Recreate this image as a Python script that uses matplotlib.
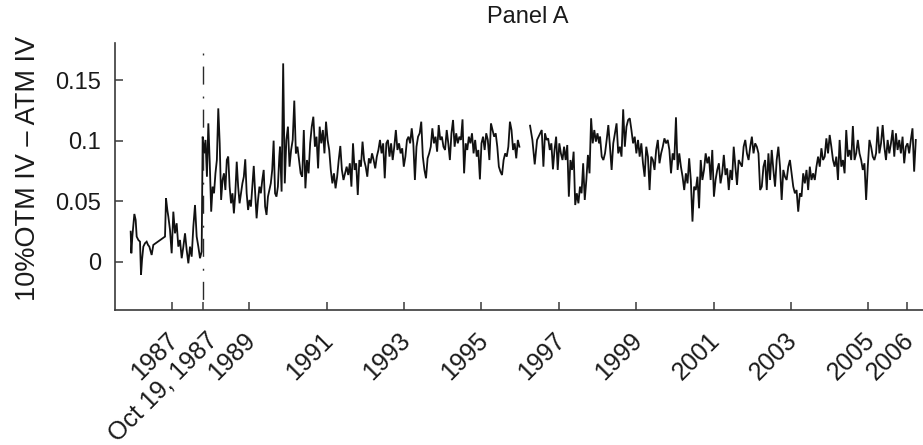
import numpy as np
import matplotlib
matplotlib.use("Agg")
import matplotlib.pyplot as plt
from matplotlib import transforms

plt.rcParams['font.family'] = ['Liberation Sans', 'DejaVu Sans']

# ---- skew series: 10% OTM implied vol minus ATM implied vol ----
# Before the 1987 crash observations are sparse, so dates are listed explicitly.
pre_crash_years = [
    1985.940, 1985.957, 1985.983, 1986.035, 1986.069, 1986.095, 1986.138, 1986.181,
    1986.207, 1986.233, 1986.267, 1986.310, 1986.353, 1986.388, 1986.422, 1986.457,
    1986.482, 1986.525, 1986.827, 1986.853, 1986.887, 1986.913, 1986.956, 1986.999,
    1987.042, 1987.085, 1987.128, 1987.171, 1987.214, 1987.258, 1987.301, 1987.344,
    1987.387, 1987.430, 1987.473, 1987.516, 1987.559, 1987.602, 1987.645, 1987.688,
    1987.731, 1987.774,
]
pre_crash_values = [
    0.0248, 0.0069, 0.0207, 0.0394, 0.0344, 0.0207, 0.0179, 0.0165,
    -0.0110, 0.0014, 0.0124, 0.0152, 0.0165, 0.0138, 0.0124, 0.0083,
    0.0055, 0.0138, 0.0207, 0.0523, 0.0427, 0.0372, 0.0262, 0.0069,
    0.0413, 0.0234, 0.0317, 0.0124, 0.0179, 0.0028, 0.0124, 0.0234,
    0.0096, -0.0014, 0.0124, 0.0041, 0.0289, 0.0468, 0.0207, 0.0124,
    0.0028, 0.0083,
]

# After the crash: evenly spaced observations between the given dates
run_1987_1989 = [
    0.1033, 0.0895, 0.1006, 0.0702, 0.1143, 0.0813, 0.0413, 0.0620, 0.0565, 0.0730,
    0.0840, 0.1267, 0.0978, 0.0510, 0.0675, 0.0730, 0.0592, 0.0840, 0.0868, 0.0620,
    0.0482, 0.0565, 0.0399, 0.0565, 0.0826, 0.0620, 0.0482, 0.0565, 0.0647, 0.0702,
    0.0846, 0.0565, 0.0427, 0.0510, 0.0455, 0.0620, 0.0791, 0.0565, 0.0358, 0.0510,
    0.0620, 0.0565, 0.0675, 0.0758, 0.0455, 0.0386, 0.0537, 0.0592, 0.0647, 0.0758,
    0.1000, 0.0565, 0.0537, 0.0620, 0.0868,
]
run_1989_1994 = [
    0.0950, 0.0579, 0.1639, 0.0647, 0.1006, 0.1116, 0.0785, 0.0923, 0.1006, 0.1331,
    0.0895, 0.0950, 0.0840, 0.0730, 0.0702, 0.1088, 0.0606, 0.0840, 0.0730, 0.0978,
    0.1116, 0.1198, 0.0950, 0.1033, 0.0771, 0.1116, 0.0978, 0.1088, 0.0895, 0.1157,
    0.1006, 0.0923, 0.0758, 0.0647, 0.0730, 0.0606, 0.0702, 0.0840, 0.0956, 0.0758,
    0.0675, 0.0730, 0.0785, 0.0716, 0.0813, 0.0620, 0.0978, 0.0758, 0.0813, 0.0551,
    0.0840, 0.0785, 0.0992, 0.0840, 0.0785, 0.0702, 0.0854, 0.0813, 0.0895, 0.0840,
    0.0771, 0.0868, 0.0923, 0.1006, 0.0895, 0.0978, 0.0689, 0.0978, 0.1006, 0.0868,
    0.0978, 0.0840, 0.0950, 0.1088, 0.0923, 0.0978, 0.0895, 0.0937, 0.0785, 0.0868,
    0.1006, 0.1033, 0.0978, 0.1102, 0.0978, 0.0675, 0.0950, 0.1033, 0.1061, 0.1157,
    0.0868, 0.0758, 0.0689, 0.0854, 0.0895, 0.0950, 0.1102, 0.0978, 0.1033, 0.0909,
    0.1129, 0.1006, 0.1033, 0.0950, 0.0923,
]
run_1994_1996 = [
    0.1088, 0.0978, 0.0840, 0.1061, 0.1171, 0.0950, 0.1061, 0.0978, 0.1033, 0.1006,
    0.1176, 0.0730, 0.0978, 0.0923, 0.1033, 0.0978, 0.1061, 0.0895, 0.1006, 0.0868,
    0.0923, 0.0680, 0.0978, 0.1033, 0.0923, 0.1061, 0.1006, 0.0840, 0.1143, 0.1088,
    0.1033, 0.1061, 0.0950, 0.0785, 0.0744, 0.0716, 0.0840, 0.0895, 0.0868, 0.0950,
    0.1157, 0.1088, 0.0923, 0.0978, 0.0854, 0.1006, 0.0950,
]
run_1996_early = [0.1124, 0.1006, 0.0804, 0.1006, 0.1047, 0.1088]
run_1996_1998 = [
    0.0785, 0.1061, 0.1006, 0.1019, 0.0923, 0.0978, 0.0763, 0.0923, 0.1033, 0.0758,
    0.0978, 0.0895, 0.0840, 0.0950, 0.0840, 0.0964, 0.0537, 0.0840, 0.0758, 0.0909,
    0.0468, 0.0565, 0.0482, 0.0620, 0.0565, 0.0813, 0.0510, 0.0675, 0.0882, 0.0730,
    0.1185, 0.0978, 0.1088, 0.0992, 0.1061, 0.0978,
]
run_1998_2002 = [
    0.1033, 0.0868, 0.0840, 0.0895, 0.1006, 0.1129, 0.0950, 0.0758, 0.0978, 0.1061,
    0.1143, 0.0895, 0.0950, 0.0868, 0.1259, 0.0950, 0.1116, 0.1171, 0.1185, 0.1088,
    0.0978, 0.1033, 0.0895, 0.1006, 0.0868, 0.0978, 0.0813, 0.0702, 0.0950, 0.0868,
    0.0592, 0.0868, 0.0840, 0.0758, 0.0923, 0.1006, 0.0813, 0.0895, 0.0950, 0.1019,
    0.0978, 0.1006, 0.0923, 0.0730, 0.0895, 0.0840, 0.1193, 0.0758, 0.0895, 0.0785,
    0.0702, 0.0592, 0.0730, 0.0647, 0.0854, 0.0675, 0.0331, 0.0620, 0.0592, 0.0702,
    0.0441, 0.0840, 0.0675, 0.0758, 0.0895, 0.0813, 0.0868, 0.0675, 0.0923, 0.0537,
    0.0675, 0.0758, 0.0813, 0.0647, 0.0730, 0.0882, 0.0716, 0.0771, 0.0592, 0.0758,
    0.0675, 0.0950, 0.0785, 0.0634, 0.0840, 0.0813, 0.0785, 0.0950, 0.1006, 0.0895,
    0.0840, 0.0950, 0.1033, 0.0895, 0.0978, 0.0950, 0.0895, 0.0592,
]
run_2002_2006 = [
    0.0620, 0.0785, 0.0840, 0.0592, 0.0895, 0.0675, 0.0923, 0.0758, 0.0620, 0.0840,
    0.0950, 0.0785, 0.0510, 0.0758, 0.0702, 0.0675, 0.0785, 0.0840, 0.0730, 0.0620,
    0.0565, 0.0592, 0.0413, 0.0565, 0.0537, 0.0730, 0.0647, 0.0758, 0.0592, 0.0785,
    0.0675, 0.0730, 0.0675, 0.0785, 0.0868, 0.0785, 0.0937, 0.0840, 0.0868, 0.1019,
    0.0895, 0.1047, 0.0950, 0.0840, 0.0785, 0.0868, 0.0675, 0.1006, 0.0785, 0.0840,
    0.0730, 0.1088, 0.0868, 0.0923, 0.0840, 0.1121, 0.0840, 0.0895, 0.1006, 0.0895,
    0.0840, 0.0758, 0.0813, 0.0510, 0.0785, 0.1006, 0.0950, 0.0868, 0.0840, 0.0895,
    0.1116, 0.0895, 0.0978, 0.1129, 0.0950, 0.0840, 0.1006, 0.0895, 0.0978, 0.1088,
    0.0868, 0.1061, 0.0923, 0.1006, 0.0895, 0.1033, 0.0813, 0.0950, 0.0978, 0.0895,
    0.1006, 0.1102, 0.0744, 0.1006,
]

# (first date, last date, values, data gap follows)
runs = [
    (1987.800, 1989.780, run_1987_1989, False),
    (1989.798, 1994.062, run_1989_1994, False),
    (1994.105, 1995.983, run_1994_1996, True),
    (1996.258, 1996.560, run_1996_early, False),
    (1996.603, 1998.041, run_1996_1998, False),
    (1998.067, 2002.202, run_1998_2002, False),
    (2002.245, 2006.224, run_2002_2006, False),
]

crash_date = 1987.797
tick_years = [1987, crash_date, 1989, 1991, 1993, 1995, 1997, 1999, 2001, 2003, 2005, 2006]
tick_labels = ['1987', 'Oct 19, 1987', '1989', '1991', '1993', '1995', '1997',
               '1999', '2001', '2003', '2005', '2006']
y_ticks = [0, 0.05, 0.1, 0.15]
y_tick_labels = ['0', '0.05', '0.1', '0.15']

# ---- assemble the series ----
xs = [np.asarray(pre_crash_years, float)]
ys = [np.asarray(pre_crash_values, float)]
for start, end, vals, gap in runs:
    xs.append(np.linspace(start, end, len(vals)))
    ys.append(np.asarray(vals, float))
    if gap:
        xs.append(np.array([np.nan]))
        ys.append(np.array([np.nan]))
x = np.concatenate(xs)
y = np.concatenate(ys)

# ---- figure ----
W, H = 923, 445
fig = plt.figure(figsize=(W / 100, H / 100), dpi=100)
ax = fig.add_axes([115 / W, 1 - 310 / H, 808 / W, (310 - 43.3) / H])

ax.plot(x, y, color='#111111', lw=1.3, solid_joinstyle='miter')
ax.plot([crash_date, crash_date], [0.1805, -0.04], color='#2a2a2a', lw=1.0,
        linestyle=(14.4, (13, 8.6, 1.4, 8)))

ax.set_xlim(1985.535, 2006.41)
ax.set_ylim(-0.04, 0.1805)

for side in ('top', 'right'):
    ax.spines[side].set_visible(False)
for side in ('left', 'bottom'):
    ax.spines[side].set_color('#3a3a3a')
    ax.spines[side].set_linewidth(1.2)

ax.set_yticks(y_ticks)
ax.set_yticklabels(y_tick_labels)
ax.set_xticks(tick_years)
ax.set_xticklabels(tick_labels, rotation=45, ha='right', va='top')
ax.tick_params(axis='both', direction='in', length=5.5, width=1.1, color='#3a3a3a',
               labelcolor='#1a1a1a')
ax.tick_params(axis='y', pad=10, labelsize=17)
ax.tick_params(axis='x', pad=13, labelsize=18)

# nudge the slanted date labels to the right of their ticks
for lab, txt in zip(ax.get_xticklabels(), tick_labels):
    dx = 14.0 if txt.startswith('Oct') else 8.0
    lab.set_transform(lab.get_transform() +
                      transforms.ScaledTranslation(dx / 72, 0, fig.dpi_scale_trans))

fig.text(28 / W, 1 - 168 / H, '10%OTM IV \u2013 ATM IV', rotation=90,
         ha='center', va='center', fontsize=19.5, color='#1a1a1a')
fig.text(528 / W, 1 - 17 / H, 'Panel A', ha='center', va='center',
         fontsize=17, color='#1a1a1a')

fig.savefig('out.png', dpi=100)
